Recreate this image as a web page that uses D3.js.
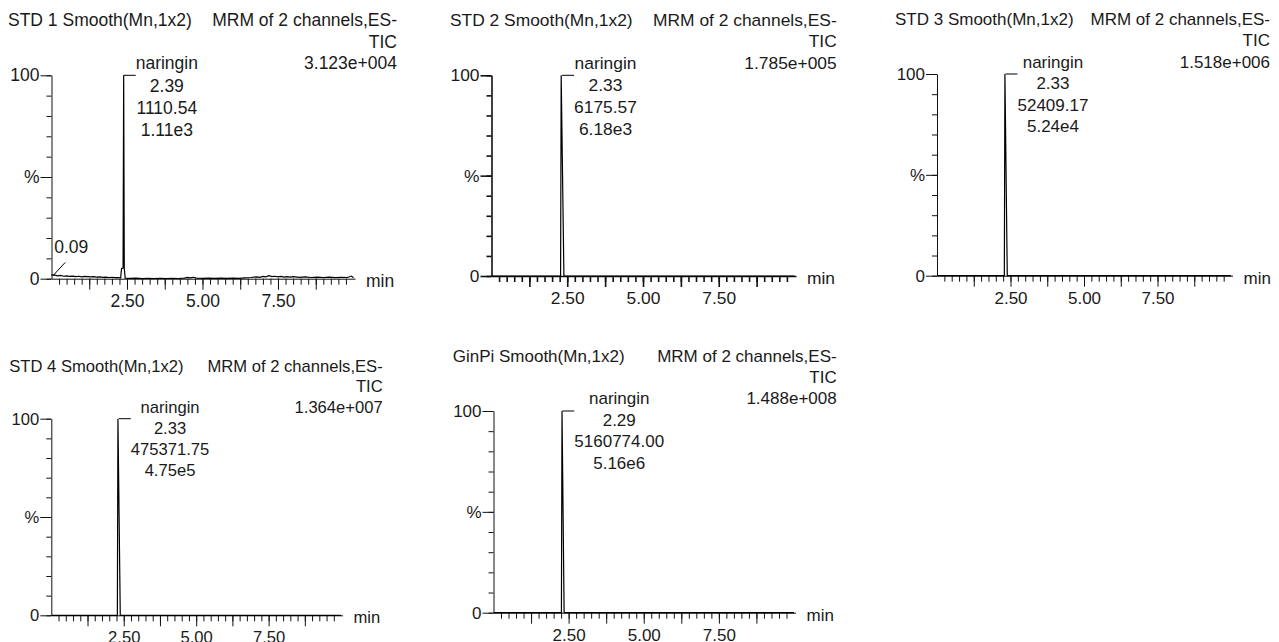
<!DOCTYPE html>
<html>
<head>
<meta charset="utf-8">
<script src="https://cdn.jsdelivr.net/npm/d3@7"></script>
<style>
  body { margin: 0; background: #fff; }
  svg { display: block; }
  text { font-family: "Liberation Sans", Arial, sans-serif; fill: #1a1a1a; }
</style>
</head>
<body>
<div id="chart"></div>
<script>
// sample data
const sampleNames = ["STD 1", "STD 2", "STD 3", "STD 4", "GinPi"];
const ticMax = ["3.123e+004", "1.785e+005", "1.518e+006", "1.364e+007", "1.488e+008"];
const compound = "naringin";
const peakRT = [2.39, 2.33, 2.33, 2.33, 2.29];
const peakArea = ["1110.54", "6175.57", "52409.17", "475371.75", "5160774.00"];
const peakHeight = ["1.11e3", "6.18e3", "5.24e4", "4.75e5", "5.16e6"];
const xTickLabels = ["2.50", "5.00", "7.50"];

// traces as [time (min), intensity (%)]
const trace1 = [
    [0.0, 1.8], [0.09, 1.9], [0.2, 1.4], [0.3, 1.6], [0.4, 1.2], [0.5, 1.4], [0.6, 1.1],
    [0.7, 1.3], [0.8, 1.0], [0.9, 1.2], [1.0, 0.9], [1.1, 1.1], [1.2, 1.0], [1.3, 0.9],
    [1.4, 1.0], [1.5, 0.8], [1.6, 0.9], [1.7, 0.7], [1.8, 0.8], [1.9, 0.6], [2.0, 0.7],
    [2.1, 0.5], [2.2, 0.6], [2.29, 0.4], [2.32, 5.0], [2.37, 5.2], [2.39, 100], [2.41, 5.0],
    [2.44, 0.3], [2.6, 0.2], [2.8, 0.3], [3.0, 0.1], [3.2, 0.2], [3.4, 0.1], [3.6, 0.2],
    [3.8, 0.1], [4.0, 0.2], [4.2, 0.1], [4.4, 0.3], [4.5, 0.6], [4.6, 0.4], [4.7, 0.7],
    [4.8, 0.3], [5.0, 0.2], [5.2, 0.3], [5.4, 0.2], [5.6, 0.3], [5.8, 0.2], [6.0, 0.3],
    [6.2, 0.2], [6.4, 0.4], [6.6, 0.6], [6.8, 0.9], [6.9, 0.7], [7.0, 1.1], [7.1, 0.9],
    [7.2, 1.5], [7.3, 1.0], [7.4, 1.2], [7.5, 0.9], [7.6, 1.1], [7.7, 0.8], [7.8, 1.0],
    [7.9, 0.8], [8.0, 1.0], [8.2, 0.7], [8.4, 0.9], [8.6, 0.6], [8.8, 0.8], [9.0, 0.6],
    [9.2, 0.8], [9.4, 0.5], [9.6, 0.7], [9.8, 0.6], [9.93, 1.3], [10.0, 0.5]
];
const trace2 = [[0, 0], [2.28, 0], [2.30, 100], [2.39, 0], [10, 0]];
const trace3 = [[0, 0], [2.29, 0], [2.31, 100], [2.39, 0], [10, 0]];
const trace4 = [[0, 0], [2.28, 0], [2.30, 100], [2.38, 0], [10, 0]];
const trace5 = [[0, 0], [2.26, 0], [2.28, 100], [2.35, 0], [10, 0]];
const traces = [trace1, trace2, trace3, trace4, trace5];

// small labelled peak in STD 1
const minorPeaks = [{ panel: 0, rt: 0.09, level: 1.6, label: "0.09" }];

// panel frames on the page
const panels = [
    { x0: 51.5, xEnd: 355, yTop: 75.3, yBot: 278.7, titleX: 8, headRight: 397, base: 25.7, fs: 17.5, axisW: 1 },
    { x0: 491.5, xEnd: 796, yTop: 75.3, yBot: 276, titleX: 450, headRight: 836.7, base: 25.7, fs: 17.4, axisW: 1.6 },
    { x0: 937, xEnd: 1232.5, yTop: 74, yBot: 275.7, titleX: 895, headRight: 1270, base: 25, fs: 17, axisW: 1 },
    { x0: 51.3, xEnd: 342.5, yTop: 418.7, yBot: 615.3, titleX: 9.3, headRight: 382.7, base: 371.7, fs: 16.6, axisW: 1 },
    { x0: 493.5, xEnd: 795.5, yTop: 411, yBot: 612.7, titleX: 452.7, headRight: 836.7, base: 361.7, fs: 17, axisW: 1 }
];

const width = 1279, height = 642;
const svg = d3.select("#chart").append("svg")
    .attr("width", width)
    .attr("height", height);

panels.forEach((p, i) => {
    const g = svg.append("g").style("font-size", p.fs + "px");
    const lh = 1.25 * p.fs;

    const x = d3.scaleLinear().domain([0, 10.05]).range([p.x0, p.xEnd]);
    const y = d3.scaleLinear().domain([0, 100]).range([p.yBot, p.yTop]);

    // header texts
    g.append("text")
        .attr("x", p.titleX).attr("y", p.base)
        .text(sampleNames[i] + " Smooth(Mn,1x2)");
    const head = ["MRM of 2 channels,ES-", "TIC", ticMax[i]];
    head.forEach((t, k) => {
        g.append("text")
            .attr("x", p.headRight).attr("y", p.base + k * lh)
            .attr("text-anchor", "end")
            .text(t);
    });

    // y axis: minor ticks every 10 %, major at 0 / 50 / 100
    g.append("g")
        .attr("transform", `translate(${p.x0},0)`)
        .call(d3.axisLeft(y).tickValues(d3.range(0, 101, 10)).tickSize(5).tickSizeOuter(0).tickFormat(""))
        .call(a => a.select(".domain").remove());
    g.append("g")
        .attr("class", "yMajor")
        .attr("transform", `translate(${p.x0},0)`)
        .call(d3.axisLeft(y).tickValues([0, 50, 100]).tickSize(11).tickSizeOuter(0).tickPadding(1)
            .tickFormat(d => d === 50 ? "%" : d));

    // x axis: minor every 0.25 min, major every 1.25 min
    const minorT = d3.range(1, 40).map(k => k * 0.25);
    const majorT = d3.range(1, 8).map(k => k * 1.25);
    g.append("g")
        .attr("transform", `translate(0,${p.yBot})`)
        .call(d3.axisBottom(x).tickValues(minorT).tickSize(6).tickSizeOuter(0).tickFormat(""));
    g.append("g")
        .attr("transform", `translate(0,${p.yBot})`)
        .call(d3.axisBottom(x).tickValues(majorT).tickSize(11).tickSizeOuter(0).tickPadding(5)
            .tickFormat(d => {
                const s = d.toFixed(2);
                return xTickLabels.includes(s) ? s : "";
            }))
        .call(a => a.select(".domain").remove());

    g.selectAll(".tick text")
        .style("font-size", p.fs + "px")
        .style("font-family", "'Liberation Sans', Arial, sans-serif")
        .attr("fill", "#1a1a1a");
    g.selectAll(".yMajor .tick text").filter(d => d === 50).attr("fill", "#4d5670");
    g.selectAll(".domain, .tick line")
        .attr("stroke", "#111")
        .attr("stroke-width", p.axisW);

    g.append("text")
        .attr("x", p.xEnd + 11).attr("y", p.yBot + 8)
        .text("min");

    // chromatogram trace
    const line = d3.line().x(d => x(d[0])).y(d => y(d[1]));
    g.append("path")
        .datum(traces[i])
        .attr("d", line)
        .attr("fill", "none")
        .attr("stroke", "#000")
        .attr("stroke-width", 1.2);

    // peak annotation
    const px = x(peakRT[i]);
    g.append("line")
        .attr("x1", px).attr("y1", y(100))
        .attr("x2", px + 12).attr("y2", y(100))
        .attr("stroke", "#000");
    const lines = [compound, peakRT[i].toFixed(2), peakArea[i], peakHeight[i]];
    const lab = g.append("g");
    const txt = lab.selectAll("text")
        .data(lines)
        .enter().append("text")
        .attr("y", (d, k) => p.base + 2 * lh + k * 1.27 * p.fs)
        .attr("text-anchor", "middle")
        .text(d => d);
    let maxW = 0;
    txt.each(function () { maxW = Math.max(maxW, this.getComputedTextLength()); });
    txt.attr("x", px + 12 + maxW / 2);
});

// small peak label in STD 1
minorPeaks.forEach(m => {
    const p = panels[m.panel];
    const x = d3.scaleLinear().domain([0, 10.05]).range([p.x0, p.xEnd]);
    const y = d3.scaleLinear().domain([0, 100]).range([p.yBot, p.yTop]);
    svg.append("line")
        .attr("x1", x(m.rt) - 1).attr("y1", y(m.level))
        .attr("x2", x(m.rt) + 11).attr("y2", y(8))
        .attr("stroke", "#000");
    svg.append("text")
        .attr("x", x(m.rt)).attr("y", y(12.5))
        .style("font-size", p.fs + "px")
        .text(m.label);
});
</script>
</body>
</html>
